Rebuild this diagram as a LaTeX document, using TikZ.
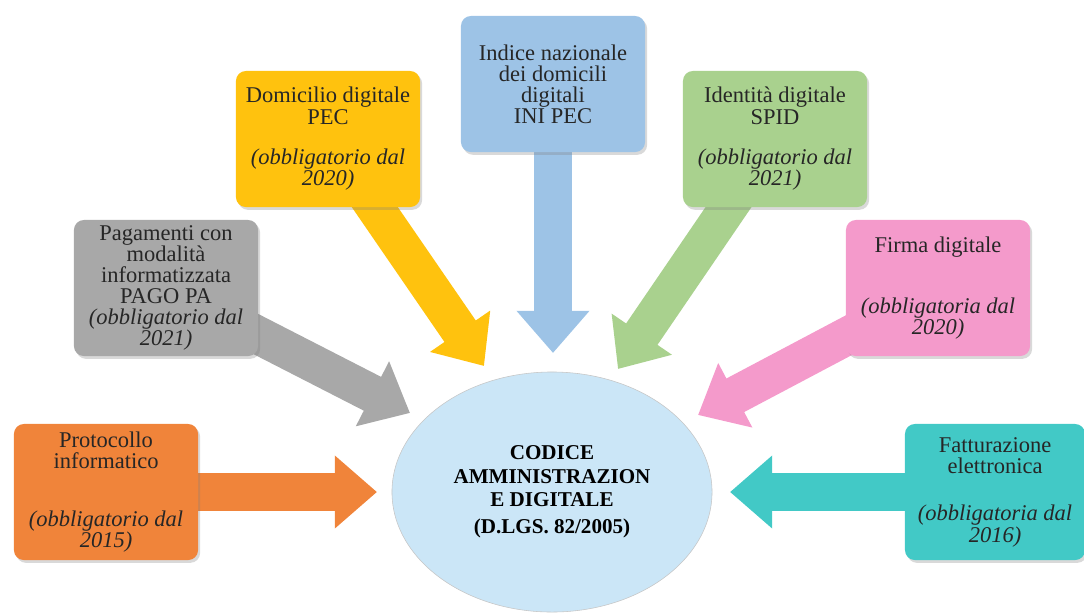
\documentclass[tikz,border=0pt]{standalone}
\usepackage{fontspec}
\setmainfont{Liberation Serif}
\usetikzlibrary{arrows.meta,shadows,backgrounds,shapes.geometric}
\definecolor{protoC}{HTML}{F0843A}
\definecolor{fattC}{HTML}{42C9C6}
\definecolor{pagoC}{HTML}{A8A8A8}
\definecolor{pecC}{HTML}{FFC20E}
\definecolor{iniC}{HTML}{9DC3E6}
\definecolor{spidC}{HTML}{A9D18E}
\definecolor{firmaC}{HTML}{F49ACB}
\definecolor{codC}{HTML}{CBE6F7}
\begin{document}
\begin{tikzpicture}[x=0.025cm, y=-0.025cm,
	box/.style={rounded corners=7pt, minimum width=4.6cm, minimum height=3.4cm, align=center,
		font=\fontsize{16}{15}\selectfont, text=black!85,
		drop shadow={opacity=0.3, shadow xshift=1.5pt, shadow yshift=-2pt}},
	arr/.style={line width=27pt, -{Triangle[length=30pt, width=50pt]}}]
	\useasboundingbox (0,0) rectangle (1084,614);

	\node[ellipse, draw=gray!45, fill=codC, minimum width=8cm, minimum height=6cm, inner sep=0pt, align=center,
		font=\bfseries\fontsize{15}{16.5}\selectfont] (cad) at (552,492)
		{CODICE\\AMMINISTRAZION\\E DIGITALE\\[3pt](D.LGS. 82/2005)};

	\node[box, fill=protoC] (proto) at (106,492) {Protocollo\\informatico\\[26pt]\textit{(obbligatorio dal}\\\textit{2015)}};
	\node[box, fill=pagoC] (pago) at (166,288) {Pagamenti con\\modalità\\informatizzata\\PAGO PA\\\textit{(obbligatorio dal}\\\textit{2021)}};
	\node[box, fill=pecC] (pec) at (328,139) {Domicilio digitale\\PEC\\[14pt]\textit{(obbligatorio dal}\\\textit{2020)}};
	\node[box, fill=iniC] (ini) at (553,84) {Indice nazionale\\dei domicili\\digitali\\INI PEC};
	\node[box, fill=spidC] (spid) at (775,139) {Identità digitale\\SPID\\[14pt]\textit{(obbligatorio dal}\\\textit{2021)}};
	\node[box, fill=firmaC] (firma) at (938,288) {Firma digitale\\[28pt]\textit{(obbligatoria dal}\\\textit{2020)}};
	\node[box, fill=fattC, minimum width=4.5cm] (fatt) at (995,492) {Fatturazione\\elettronica\\[19pt]\textit{(obbligatoria dal}\\\textit{2016)}};

	\coordinate (tproto) at (377,492);
	\coordinate (tpago) at (410,413);
	\coordinate (tpec) at (484,366);
	\coordinate (tini) at (553,353);
	\coordinate (tspid) at (618,369);
	\coordinate (tfirma) at (698,415);
	\coordinate (tfatt) at (730,492);

	\begin{scope}[on background layer]
		\draw[arr, protoC] (proto.center) -- (tproto);
		\draw[arr, pagoC] (pago.center) -- (tpago);
		\draw[arr, pecC] (pec.center) -- (tpec);
		\draw[arr, iniC] (ini.center) -- (tini);
		\draw[arr, spidC] (spid.center) -- (tspid);
		\draw[arr, firmaC] (firma.center) -- (tfirma);
		\draw[arr, fattC] (fatt.center) -- (tfatt);
	\end{scope}
\end{tikzpicture}
\end{document}
